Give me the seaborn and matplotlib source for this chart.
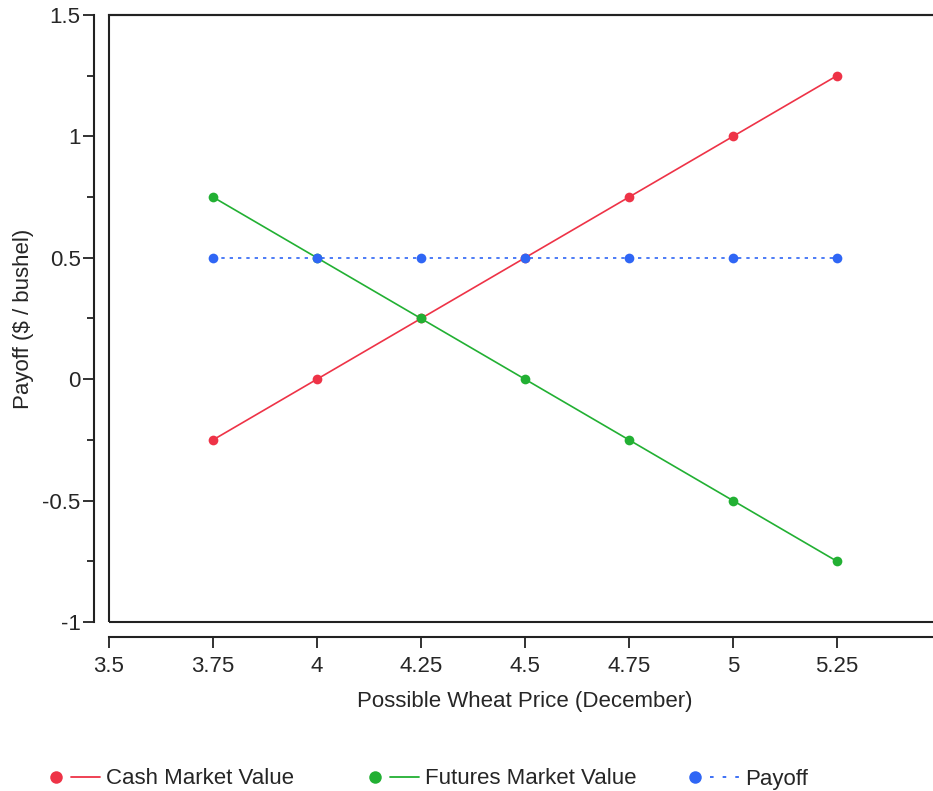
import numpy as np
import pandas as pd
import matplotlib
matplotlib.use("Agg")
import matplotlib.pyplot as plt
import seaborn as sns
from matplotlib.lines import Line2D
from matplotlib.patches import Rectangle
from matplotlib.legend_handler import HandlerTuple
from matplotlib.ticker import MultipleLocator, FormatStrFormatter

# data
wheat_price = [3.75, 4.0, 4.25, 4.5, 4.75, 5.0, 5.25]
cash_value = [-0.25, 0.0, 0.25, 0.5, 0.75, 1.0, 1.25]
futures_value = [0.75, 0.5, 0.25, 0.0, -0.25, -0.5, -0.75]
payoff = [0.5, 0.5, 0.5, 0.5, 0.5, 0.5, 0.5]

x_ticks = [3.5, 3.75, 4.0, 4.25, 4.5, 4.75, 5.0, 5.25]
y_ticks = [-1, -0.5, 0, 0.5, 1, 1.5]
series_names = ["Cash Market Value", "Futures Market Value", "Payoff"]

red = "#EE3347"
green = "#22B033"
blue = "#2F66F5"
fs = 16

sns.set_style("white")
plt.rcParams['font.family'] = ['Liberation Sans', 'DejaVu Sans']

fig = plt.figure(figsize=(9.33, 7.91), dpi=100)
ax = fig.add_axes([109 / 933, 1 - 622 / 791, 832 / 933, (622 - 15) / 791])

df = pd.DataFrame({"price": wheat_price, "cash": cash_value,
                   "futures": futures_value, "payoff": payoff})

sns.lineplot(data=df, x="price", y="cash", color=red, lw=1.2, marker="o",
             markersize=7, markeredgewidth=0, ax=ax)
sns.lineplot(data=df, x="price", y="futures", color=green, lw=1.2, marker="o",
             markersize=7, markeredgewidth=0, ax=ax)
sns.lineplot(data=df, x="price", y="payoff", color=blue, lw=1.2, marker="o",
             markersize=7, markeredgewidth=0, ls=(0, (2, 3)), ax=ax)

ax.set_xlim(3.5, 5.5)
ax.set_ylim(-1, 1.5)
ax.set_xticks(x_ticks)
ax.set_yticks(y_ticks)
ax.xaxis.set_major_formatter(FormatStrFormatter("%g"))
ax.yaxis.set_major_formatter(FormatStrFormatter("%g"))
ax.yaxis.set_minor_locator(MultipleLocator(0.25))

# JMP-like look: axes offset from the frame
for side in ["left", "bottom"]:
    ax.spines[side].set_position(("outward", 10.5))
for side in ax.spines:
    ax.spines[side].set_linewidth(1.5)
    ax.spines[side].set_color("#222222")
ax.add_patch(Rectangle((0, 0), 1, 1, transform=ax.transAxes, fill=False,
                       lw=1.5, edgecolor="#222222", clip_on=False))

ax.tick_params(axis="both", which="major", direction="out", length=8, width=1.3,
               labelsize=fs, color="#222222", left=True, bottom=True)
ax.tick_params(axis="y", which="minor", direction="out", length=5, width=1.3,
               color="#222222", left=True)
ax.tick_params(axis="y", pad=2)
ax.tick_params(axis="x", pad=6)

ax.set_xlabel("Possible Wheat Price (December)", fontsize=fs, labelpad=10)
ax.set_ylabel("Payoff (\\$ / bushel)", fontsize=fs, labelpad=6)

# legend: three fixed-width columns like JMP
colors = [red, green, blue]
styles = ["-", "-", (0, (2, 5))]
anchors = [42 / 933, 361 / 933, 681 / 933]
for name, c, s, xa in zip(series_names, colors, styles, anchors):
    h = (Line2D([], [], color=c, marker="o", ls="none", markersize=9, markeredgewidth=0),
         Line2D([], [], color=c, lw=1.3, ls=s))
    fig.legend([h], [name], handler_map={tuple: HandlerTuple(ndivide=2, pad=0)},
               loc="center left", bbox_to_anchor=(xa, 1 - 779 / 791), frameon=False,
               fontsize=fs, handlelength=2.6, handletextpad=0.27,
               borderpad=0, borderaxespad=0)

fig.savefig("out.png", dpi=100)
